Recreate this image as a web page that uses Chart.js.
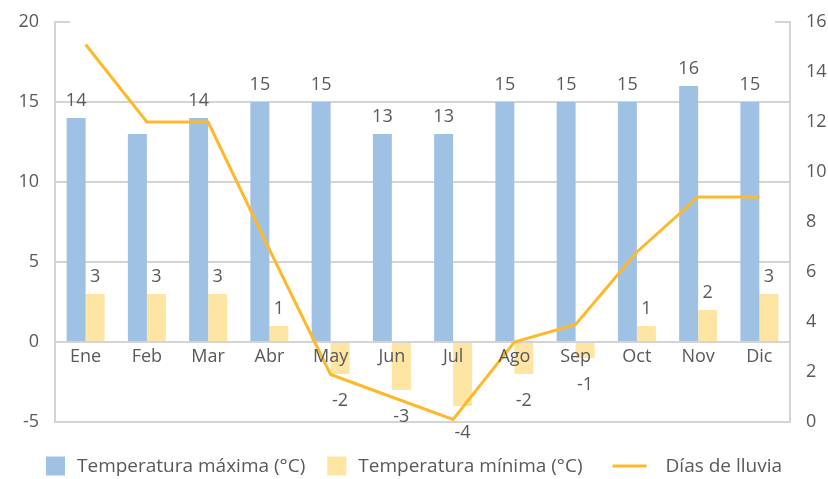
<!DOCTYPE html>
<html>
<head>
<meta charset="utf-8">
<script src="https://cdn.jsdelivr.net/npm/chart.js@4.4.0/dist/chart.umd.min.js"></script>
<style>
  html, body { margin: 0; padding: 0; background: #fff; }
  #wrap { width: 828px; height: 479px; }
</style>
</head>
<body>
<div id="wrap"><canvas id="chart" width="828" height="479"></canvas></div>
<script>
// chart data
const months = ["Ene", "Feb", "Mar", "Abr", "May", "Jun", "Jul", "Ago", "Sep", "Oct", "Nov", "Dic"];
const tempMax = [14, 13, 14, 15, 15, 13, 13, 15, 15, 15, 16, 15];
const tempMin = [3, 3, 3, 1, -2, -3, -4, -2, -1, 1, 2, 3];
const rainDays = [15.1, 12, 12, 6.9, 1.9, 1, 0.1, 3.2, 3.9, 6.8, 9, 9];
const leftTicks = [-5, 0, 5, 10, 15, 20];
const rightTicks = [0, 2, 4, 6, 8, 10, 12, 14, 16];
const hiddenMaxLabels = ["Feb"]; // label not shown in the original

const seriesNames = ["Temperatura máxima (°C)", "Temperatura mínima (°C)", "Días de lluvia"];
const colors = ["#9fc2e4", "#fee5a4", "#fdb92b"];

const FONT = "'Open Sans', sans-serif";
const TEXT = "#595959";
const GRID = "#d4d4d4";

// bar value labels
const valueLabels = {
    id: "valueLabels",
    afterDatasetsDraw(chart) {
        const ctx = chart.ctx;
        ctx.save();
        ctx.font = "18px " + FONT;
        ctx.fillStyle = TEXT;
        ctx.textAlign = "center";
        [0, 1].forEach(di => {
            const meta = chart.getDatasetMeta(di);
            const values = chart.data.datasets[di].data;
            meta.data.forEach((bar, i) => {
                if (di === 0 && hiddenMaxLabels.includes(months[i])) return;
                const v = values[i];
                if (v >= 0) {
                    ctx.textBaseline = "bottom";
                    ctx.fillText(String(v), bar.x, bar.y - 8);
                } else {
                    ctx.textBaseline = "top";
                    ctx.fillText(String(v), bar.x, bar.y + 18);
                }
            });
        });
        ctx.restore();
    }
};

// month names drawn above the bars, on the zero line
const monthLabels = {
    id: "monthLabels",
    afterDatasetsDraw(chart) {
        const ctx = chart.ctx;
        const x = chart.scales.x;
        const y0 = chart.scales.y.getPixelForValue(0);
        ctx.save();
        ctx.font = "18px " + FONT;
        ctx.fillStyle = TEXT;
        ctx.textAlign = "center";
        ctx.textBaseline = "top";
        months.forEach((m, i) => ctx.fillText(m, x.getPixelForValue(i), y0 + 6));
        ctx.restore();
    }
};

// short inner tick stubs at the top of both axes
const topStubs = {
    id: "topStubs",
    afterDraw(chart) {
        const ctx = chart.ctx;
        const a = chart.chartArea;
        const yTop = chart.scales.y.getPixelForValue(leftTicks[leftTicks.length - 1]);
        ctx.save();
        ctx.strokeStyle = GRID;
        ctx.lineWidth = 2;
        ctx.beginPath();
        ctx.moveTo(a.left, yTop);
        ctx.lineTo(a.left + 15, yTop);
        ctx.moveTo(a.right - 15, yTop);
        ctx.lineTo(a.right, yTop);
        ctx.stroke();
        ctx.restore();
    }
};

// legend drawn at the bottom
const bottomLegend = {
    id: "bottomLegend",
    afterDraw(chart) {
        const ctx = chart.ctx;
        ctx.save();
        ctx.font = "19px " + FONT;
        ctx.textBaseline = "middle";
        const spacing = [22, 30];
        const items = seriesNames.map((name, i) => {
            const mark = i < 2 ? 19 : 34;
            const gap = i < 2 ? 12 : 19;
            return { name, color: colors[i], mark, gap, w: mark + gap + ctx.measureText(name).width, line: i === 2 };
        });
        const total = items.reduce((s, it) => s + it.w, 0) + spacing[0] + spacing[1];
        let x = (chart.width - total) / 2;
        const cy = 466;
        items.forEach((it, i) => {
            if (it.line) {
                ctx.strokeStyle = it.color;
                ctx.lineWidth = 3;
                ctx.beginPath();
                ctx.moveTo(x, cy);
                ctx.lineTo(x + it.mark, cy);
                ctx.stroke();
            } else {
                ctx.fillStyle = it.color;
                ctx.fillRect(x, cy - 9.5, it.mark, 19);
            }
            ctx.fillStyle = TEXT;
            ctx.fillText(it.name, x + it.mark + it.gap, cy + 1);
            x += it.w + (spacing[i] || 0);
        });
        ctx.restore();
    }
};

new Chart(document.getElementById("chart"), {
    type: "bar",
    data: {
        labels: months,
        datasets: [
            {
                label: seriesNames[0],
                data: tempMax,
                backgroundColor: colors[0],
                yAxisID: "y",
                order: 1
            },
            {
                label: seriesNames[1],
                data: tempMin,
                backgroundColor: colors[1],
                yAxisID: "y",
                order: 1
            },
            {
                type: "line",
                label: seriesNames[2],
                data: rainDays,
                borderColor: colors[2],
                backgroundColor: colors[2],
                borderWidth: 3,
                pointRadius: 0,
                tension: 0,
                yAxisID: "y1",
                order: 0
            }
        ]
    },
    options: {
        responsive: false,
        animation: false,
        datasets: {
            bar: { categoryPercentage: 0.62, barPercentage: 1 }
        },
        layout: { padding: { top: 22, bottom: 57, left: 0, right: 0 } },
        plugins: {
            legend: { display: false },
            tooltip: { enabled: false }
        },
        scales: {
            x: {
                display: false
            },
            y: {
                position: "left",
                min: leftTicks[0],
                max: leftTicks[leftTicks.length - 1],
                afterBuildTicks: axis => { axis.ticks = leftTicks.map(v => ({ value: v })); },
                afterFit: axis => { axis.width = 55; axis.paddingTop = 0; axis.paddingBottom = 0; },
                grid: {
                    drawTicks: false,
                    lineWidth: 2,
                    color: c => (c.tick && c.tick.value === leftTicks[leftTicks.length - 1]) ? "rgba(0,0,0,0)" : GRID
                },
                border: { display: true, color: GRID, width: 2 },
                ticks: { color: TEXT, font: { family: FONT, size: 18 }, padding: 16 }
            },
            y1: {
                position: "right",
                min: rightTicks[0],
                max: rightTicks[rightTicks.length - 1],
                afterBuildTicks: axis => { axis.ticks = rightTicks.map(v => ({ value: v })); },
                afterFit: axis => { axis.width = 38; axis.paddingTop = 0; axis.paddingBottom = 0; },
                grid: { display: false, drawTicks: false },
                border: { display: true, color: GRID, width: 2 },
                ticks: { color: TEXT, font: { family: FONT, size: 18 }, padding: 16 }
            }
        }
    },
    plugins: [valueLabels, monthLabels, topStubs, bottomLegend]
});
</script>
</body>
</html>
